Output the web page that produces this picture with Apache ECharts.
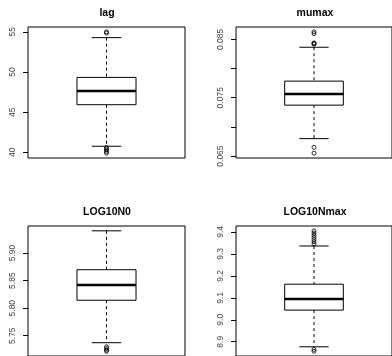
<!DOCTYPE html>
<html>
<head>
<meta charset="utf-8">
<script src="https://cdn.jsdelivr.net/npm/echarts@6/dist/echarts.min.js"></script>
<style>
html,body{margin:0;padding:0;background:#fff;}
#chart{width:392px;height:356px;}
</style>
</head>
<body>
<div id="chart"></div>
<script>
// ---- data ----
const panelTitles = ['lag', 'mumax', 'LOG10N0', 'LOG10Nmax'];

// [lower whisker, Q1, median, Q3, upper whisker]
const lagStats = [40.76, 45.93, 47.64, 49.33, 54.28];
const lagOutliers = [54.85, 55.0, 40.6, 40.45, 40.3, 40.1, 39.9];
const lagTicks = [40, 45, 50, 55];
const lagLabels = ['40', '45', '50', '55'];

const mumaxStats = [0.06799, 0.07373, 0.07564, 0.07785, 0.08366];
const mumaxOutliers = [0.0842, 0.0843, 0.0844, 0.0860, 0.0863, 0.0665, 0.0655];
const mumaxTicks = [0.065, 0.070, 0.075, 0.080, 0.085];
const mumaxLabels = ['0.065', '', '0.075', '', '0.085'];

const n0Stats = [5.7374, 5.8144, 5.8421, 5.8698, 5.9403];
const n0Outliers = [5.730, 5.727, 5.724, 5.722];
const n0Ticks = [5.75, 5.80, 5.85, 5.90];
const n0Labels = ['5.75', '5.80', '5.85', '5.90'];

const nmaxStats = [8.877, 9.044, 9.095, 9.162, 9.336];
const nmaxOutliers = [9.345, 9.355, 9.365, 9.375, 9.385, 9.395, 9.405, 8.865, 8.857];
const nmaxTicks = [8.9, 9.0, 9.1, 9.2, 9.3, 9.4];
const nmaxLabels = ['8.9', '9.0', '9.1', '9.2', '9.3', '9.4'];

// ---- layout ----
const grids = [
  {left: 28, top: 27, width: 157, height: 131},
  {left: 236, top: 27, width: 158, height: 131},
  {left: 28, top: 226, width: 157, height: 131},
  {left: 236, top: 226, width: 158, height: 131}
];
const titlePos = [[107, 13], [315, 13], [107, 212.5], [315, 212.5]];

const panels = [
  {stats: lagStats, out: lagOutliers, ticks: lagTicks, labels: lagLabels},
  {stats: mumaxStats, out: mumaxOutliers, ticks: mumaxTicks, labels: mumaxLabels},
  {stats: n0Stats, out: n0Outliers, ticks: n0Ticks, labels: n0Labels},
  {stats: nmaxStats, out: nmaxOutliers, ticks: nmaxTicks, labels: nmaxLabels}
];

const FONT = '"Liberation Sans", Arial, Helvetica, sans-serif';

function extent(p) {
  const all = p.stats.concat(p.out);
  const lo = Math.min.apply(null, all), hi = Math.max.apply(null, all);
  const pad = (hi - lo) * 0.04;
  return [lo - pad, hi + pad];
}

function renderBox(params, api) {
  const x = api.value(0);
  const lw = api.value(1), q1 = api.value(2), md = api.value(3), q3 = api.value(4), hw = api.value(5);
  const hb = 0.188, hc = 0.094;
  const tl = api.coord([x - hb, q3]);
  const br = api.coord([x + hb, q1]);
  const mL = api.coord([x - hb, md]);
  const mR = api.coord([x + hb, md]);
  const cTop = api.coord([x, hw]);
  const cQ3 = api.coord([x, q3]);
  const cQ1 = api.coord([x, q1]);
  const cBot = api.coord([x, lw]);
  const capTL = api.coord([x - hc, hw]);
  const capTR = api.coord([x + hc, hw]);
  const capBL = api.coord([x - hc, lw]);
  const capBR = api.coord([x + hc, lw]);
  const solid = {stroke: '#000', lineWidth: 1, fill: null};
  const dashed = {stroke: '#000', lineWidth: 1, lineDash: [3, 3], fill: null};
  return {
    type: 'group',
    children: [
      {type: 'line', shape: {x1: cTop[0], y1: cTop[1], x2: cQ3[0], y2: cQ3[1]}, style: dashed},
      {type: 'line', shape: {x1: cQ1[0], y1: cQ1[1], x2: cBot[0], y2: cBot[1]}, style: dashed},
      {type: 'line', shape: {x1: capTL[0], y1: capTL[1], x2: capTR[0], y2: capTR[1]}, style: solid},
      {type: 'line', shape: {x1: capBL[0], y1: capBL[1], x2: capBR[0], y2: capBR[1]}, style: solid},
      {type: 'rect', shape: {x: tl[0], y: tl[1], width: br[0] - tl[0], height: br[1] - tl[1]},
       style: {stroke: '#000', lineWidth: 1, fill: '#fff'}},
      {type: 'line', shape: {x1: mL[0], y1: mL[1], x2: mR[0], y2: mR[1]},
       style: {stroke: '#000', lineWidth: 2.5}}
    ]
  };
}

const option = {
  animation: false,
  backgroundColor: '#fff',
  grid: grids.map(g => Object.assign({show: true, borderColor: '#000', borderWidth: 1,
    backgroundColor: 'transparent', containLabel: false}, g)),
  xAxis: panels.map((p, i) => ({
    type: 'value', gridIndex: i, min: 0.5, max: 1.5, show: false
  })),
  yAxis: panels.map((p, i) => {
    const ext = extent(p);
    return {
      type: 'value', gridIndex: i, min: ext[0], max: ext[1],
      splitLine: {show: false},
      axisLine: {show: false},
      axisTick: {show: true, customValues: p.ticks, length: 5, lineStyle: {color: '#000', width: 1}},
      axisLabel: {
        show: true, customValues: p.ticks, rotate: 90, margin: 10.5,
        fontFamily: FONT, fontSize: 8.5, color: '#444',
        formatter: function (v) {
          for (let k = 0; k < p.ticks.length; k++) {
            if (Math.abs(p.ticks[k] - v) < 1e-9) return p.labels[k];
          }
          return '';
        }
      }
    };
  }),
  graphic: panelTitles.map((t, i) => ({
    type: 'text', x: titlePos[i][0], y: titlePos[i][1],
    style: {text: t, fontFamily: FONT, fontSize: 10.5, fontWeight: 'bold', fill: '#000',
      align: 'center', verticalAlign: 'middle'}
  })),
  series: []
};

panels.forEach((p, i) => {
  option.series.push({
    type: 'custom', xAxisIndex: i, yAxisIndex: i,
    renderItem: renderBox,
    encode: {x: 0, y: [1, 2, 3, 4, 5]},
    data: [[1].concat(p.stats)],
    silent: true
  });
  option.series.push({
    type: 'scatter', xAxisIndex: i, yAxisIndex: i,
    symbol: 'circle', symbolSize: 4,
    itemStyle: {color: 'transparent', borderColor: '#000', borderWidth: 1},
    data: p.out.map(v => [1, v]),
    silent: true
  });
});

const chart = echarts.init(document.getElementById('chart'), null, {renderer: 'canvas'});
chart.setOption(option);
</script>
</body>
</html>
